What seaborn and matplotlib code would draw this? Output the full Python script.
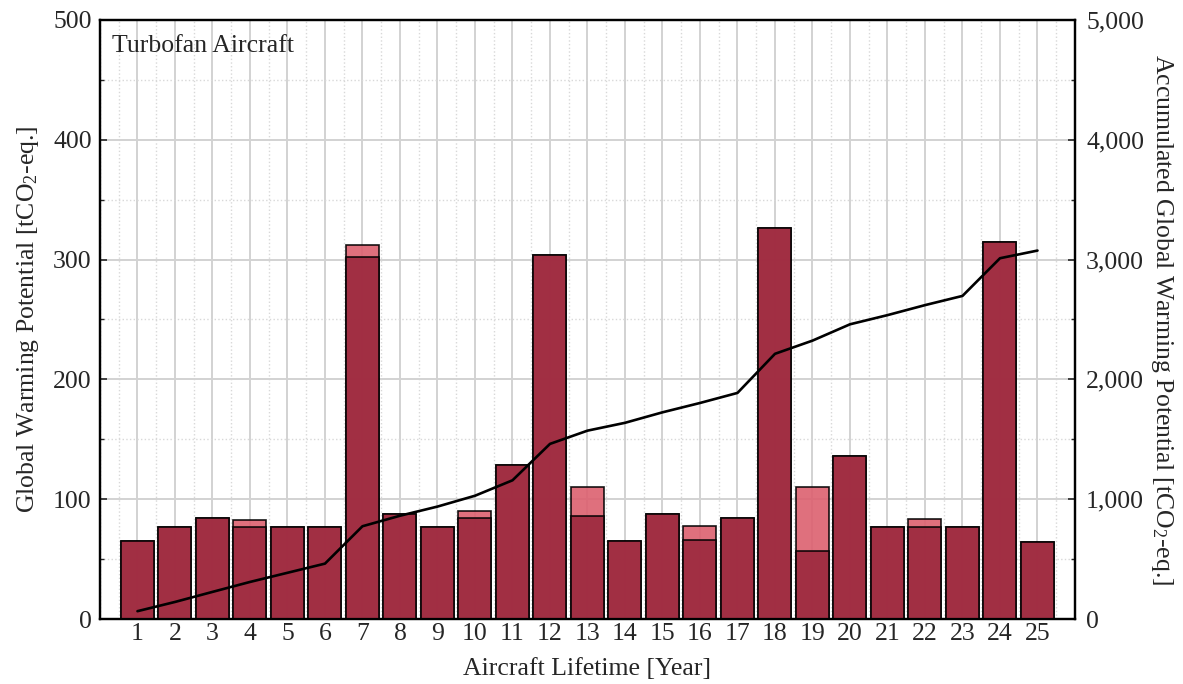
import numpy as np
import pandas as pd
import matplotlib
matplotlib.use("Agg")
import matplotlib.pyplot as plt
from matplotlib.ticker import MultipleLocator, StrMethodFormatter
import seaborn as sns

# Annual global warming potential per aircraft year [tCO2-eq.]
years = list(range(1, 26))
gwp_base = [65.4, 77, 84, 76.5, 76.5, 76.5, 302.5, 87.6, 76.5, 84,
            128.8, 304, 86, 65.4, 87.6, 66, 84, 326.4, 56.5, 136.3,
            76.5, 76.5, 77, 314.4, 64]
gwp_total = [65.4, 77, 84, 83, 76.5, 76.5, 312, 87.6, 76.5, 90.4,
             128.8, 304, 110.5, 65.4, 87.6, 78, 84, 326.4, 110, 136.3,
             76.5, 83.5, 77, 314.4, 64]

df = pd.DataFrame({"year": years, "base": gwp_base, "total": gwp_total})
df["accumulated"] = df["total"].cumsum()

sns.set_theme(style="white")
plt.rcParams["font.family"] = ["Liberation Serif", "DejaVu Serif"]
plt.rcParams["mathtext.fontset"] = "custom"
plt.rcParams["mathtext.rm"] = "Liberation Serif"
plt.rcParams["mathtext.it"] = "Liberation Serif:italic"

FS = 18.5

fig = plt.figure(figsize=(11.83, 6.84), dpi=100)
ax = fig.add_axes([0.0845, 0.095, 0.8242, 0.8758])

dark = "#9b283d"
pink = "#dc606f"

sns.barplot(data=df, x="year", y="total", native_scale=True, width=0.88,
            color=pink, saturation=1, alpha=0.9, edgecolor="black",
            linewidth=1.2, ax=ax, zorder=2)
sns.barplot(data=df, x="year", y="base", native_scale=True, width=0.88,
            color=dark, saturation=1, alpha=0.9, edgecolor="black",
            linewidth=1.2, ax=ax, zorder=3)

ax.set_xlim(0, 26)
ax.set_ylim(0, 500)
ax.set_xticks(years)
ax.set_xticklabels([str(y) for y in years])
ax.xaxis.set_minor_locator(MultipleLocator(0.5))
ax.yaxis.set_major_locator(MultipleLocator(100))
ax.yaxis.set_minor_locator(MultipleLocator(50))
ax.set_axisbelow(True)
ax.grid(which="major", axis="both", color="#d2d2d2", linewidth=1.4, linestyle="-")
ax.grid(which="minor", axis="both", color="#d8d8d8", linewidth=1.0, linestyle=":")
ax.tick_params(axis="x", which="both", length=0, labelsize=FS, pad=3)
ax.tick_params(axis="y", which="major", direction="in", length=5, width=1.2,
               labelsize=FS, left=True, pad=6)
ax.tick_params(axis="y", which="minor", direction="in", length=3, width=1.0, left=True)
ax.set_xlabel("Aircraft Lifetime [Year]", fontsize=FS, labelpad=9)
ax.set_ylabel("Global Warming Potential [tCO$_2$-eq.]", fontsize=FS, labelpad=9)
for s in ax.spines.values():
    s.set_visible(True)
    s.set_color("black")
    s.set_linewidth(1.6)

ax.text(0.012, 0.975, "Turbofan Aircraft", transform=ax.transAxes,
        fontsize=FS, ha="left", va="top")

ax2 = ax.twinx()
sns.lineplot(data=df, x="year", y="accumulated", color="black",
             linewidth=1.9, ax=ax2, zorder=5)
ax2.set_ylim(0, 5000)
ax2.yaxis.set_major_locator(MultipleLocator(1000))
ax2.yaxis.set_minor_locator(MultipleLocator(500))
ax2.yaxis.set_major_formatter(StrMethodFormatter("{x:,.0f}"))
ax2.tick_params(axis="y", which="major", direction="in", length=5, width=1.2,
                labelsize=FS, right=True, pad=8)
ax2.tick_params(axis="y", which="minor", direction="in", length=3, width=1.0, right=True)
ax2.set_ylabel("Accumulated Global Warming Potential [tCO$_2$-eq.]",
               fontsize=FS, rotation=270, labelpad=22)
ax2.set_xlabel("")
ax2.grid(False)
for s in ax2.spines.values():
    s.set_visible(True)
    s.set_color("black")
    s.set_linewidth(1.6)

fig.savefig("out.png", dpi=100)
